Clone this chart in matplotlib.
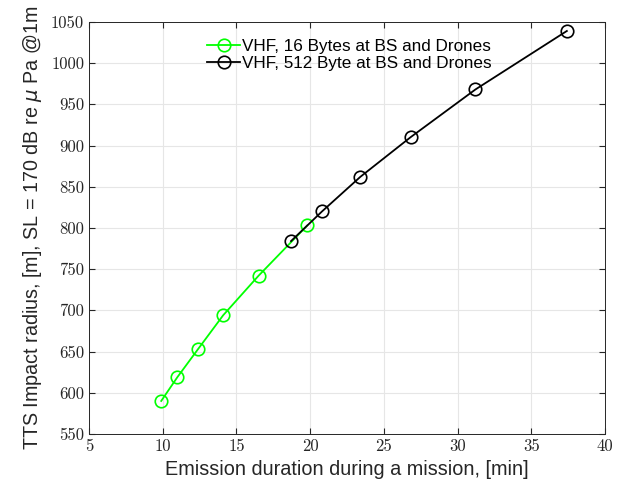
import matplotlib
matplotlib.use("Agg")
import matplotlib.pyplot as plt

x_16 = [9.9, 11.0, 12.4, 14.1, 16.5, 19.8]
y_16 = [590, 619, 653, 694, 742, 803]
x_512 = [18.7, 20.8, 23.4, 26.8, 31.2, 37.4]
y_512 = [784, 820, 862, 910, 968, 1039]
labels = ["VHF, 16 Bytes at BS and Drones", "VHF, 512 Byte at BS and Drones"]
xticks = [5, 10, 15, 20, 25, 30, 35, 40]
yticks = [550, 600, 650, 700, 750, 800, 850, 900, 950, 1000, 1050]

fig = plt.figure(figsize=(6.22, 4.87), dpi=100)
ax = fig.add_axes([0.143, 0.109, 0.830, 0.846])

ax.plot(x_16, y_16, '-o', color='#00ff00', mfc='none', ms=9, mew=1.2, lw=1.3, label=labels[0])
ax.plot(x_512, y_512, '-o', color='black', mfc='none', ms=9, mew=1.2, lw=1.3, label=labels[1])

ax.set_xlim(5, 40)
ax.set_ylim(550, 1050)
ax.set_xticks(xticks)
ax.set_yticks(yticks)
ax.grid(True, color='#e6e6e6', lw=0.8)
ax.set_axisbelow(True)
ax.tick_params(direction='in', top=True, right=True, length=4, color='#262626', labelcolor='#262626')
for lab in ax.get_xticklabels() + ax.get_yticklabels():
    lab.set_fontfamily('cmr10')
    lab.set_fontsize(12)
for s in ax.spines.values():
    s.set_color('#262626')
    s.set_linewidth(0.7)

ax.set_xlabel("Emission duration during a mission, [min]", fontsize=14.3, family='Liberation Sans', color='#262626', labelpad=4)
ax.set_ylabel(r"TTS Impact radius, [m], SL = 170 dB re $\mu$ Pa @1m", fontsize=14.2, family='Liberation Sans', color='#262626', labelpad=5)

leg = ax.legend(loc='upper center', bbox_to_anchor=(0.505, 1.0), frameon=False,
                handlelength=1.9, handletextpad=0.15, borderaxespad=0.6, labelspacing=0.1,
                prop={'family': 'Liberation Sans', 'size': 12.3})

fig.savefig("out.png", dpi=100)
